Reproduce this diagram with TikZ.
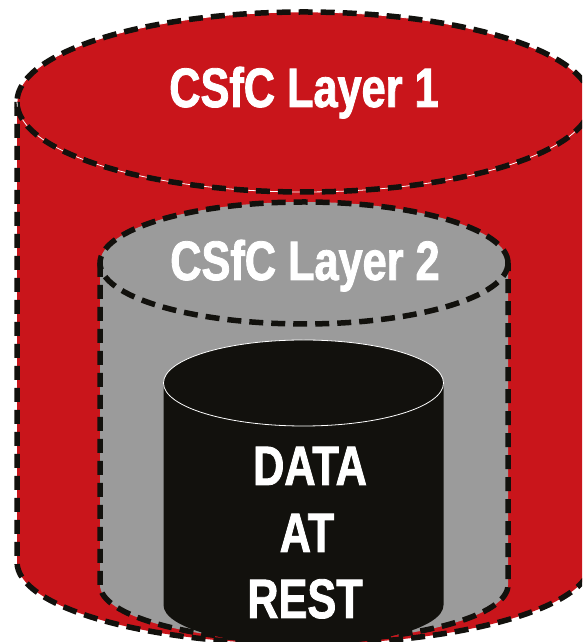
\documentclass[tikz,border=0pt]{standalone}
\usepackage{fontspec}
\setmainfont{Liberation Sans}
\newfontfamily\lblfont{Liberation Sans}[FakeStretch=0.78, BoldFeatures={FakeBold=1.5}]
\definecolor{csred}{RGB}{201,21,27}
\definecolor{csgray}{RGB}{155,155,155}
\definecolor{csblack}{RGB}{18,17,13}
\begin{document}
\begin{tikzpicture}[x=1pt,y=1pt]
\tikzset{
  dashline/.style={draw=csblack, line width=5.5pt, dash pattern=on 14pt off 8pt},
  lbl/.style={text=white, anchor=base, inner sep=0pt, font=\lblfont\bfseries\fontsize{55.5}{60}\selectfont}}
\useasboundingbox (0,0) rectangle (582,642);
\clip (0,0) rectangle (582,642);
% outer red cylinder
\fill[csred] (17,540) -- (17,80) arc[start angle=180, end angle=360, x radius=287, y radius=82]
  -- (591,540) arc[start angle=0, end angle=180, x radius=287, y radius=90] -- cycle;
\draw[dashline] (17,540) -- (17,80) arc[start angle=180, end angle=360, x radius=287, y radius=82] -- (591,540);
\draw[white, line width=0.8pt] (304,540) ellipse[x radius=287, y radius=90];
\draw[dashline] (304,540) ellipse[x radius=287, y radius=90];
% gray cylinder
\fill[csgray] (100,379) -- (100,57) arc[start angle=180, end angle=360, x radius=204, y radius=56]
  -- (508,379) arc[start angle=0, end angle=180, x radius=204, y radius=61] -- cycle;
\draw[dashline] (100,379) -- (100,57) arc[start angle=180, end angle=360, x radius=204, y radius=56] -- (508,379);
\draw[dashline] (304,379) ellipse[x radius=204, y radius=61];
% black cylinder
\fill[csblack] (163.5,259) -- (163.5,37) arc[start angle=180, end angle=360, x radius=140, y radius=40]
  -- (443.5,259) arc[start angle=0, end angle=180, x radius=140, y radius=43] -- cycle;
\draw[white, line width=0.8pt] (303.5,259) ellipse[x radius=140, y radius=43];
% labels
\node[lbl] (l1) at (304,535) {CSfC Layer 1};
\node[lbl] (l2) at (305,362) {CSfC Layer 2};
\node[lbl] (dat) at (310,157) {DATA};
\node[lbl] (at) at (307,90) {AT};
\node[lbl] (rest) at (305,24) {REST};
\end{tikzpicture}
\end{document}
